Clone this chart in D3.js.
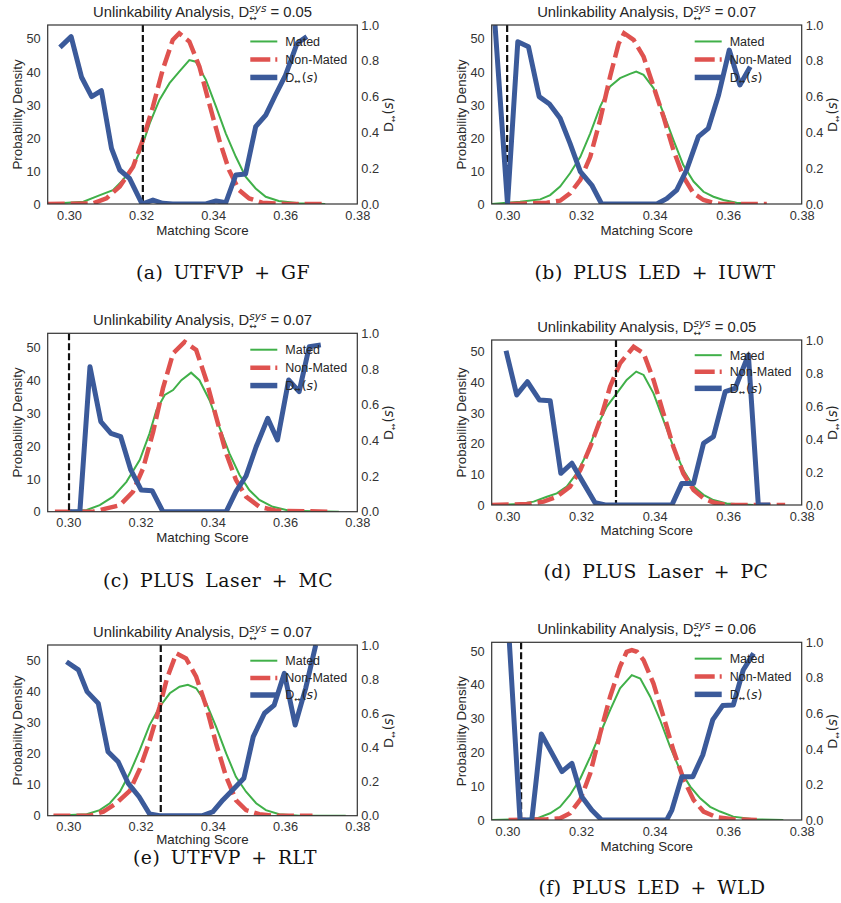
<!DOCTYPE html>
<html><head><meta charset="utf-8">
<script src="https://cdn.jsdelivr.net/npm/d3@7"></script>
<style>
body{margin:0;background:#fff}
</style>
</head><body><svg id="chart" width="841" height="903" font-family='"Liberation Sans", Arial, sans-serif'></svg>
<script>
// ---------- tick labels / texts ----------
const xTicks = [0.30, 0.32, 0.34, 0.36, 0.38];
const densityTicks = [0, 10, 20, 30, 40, 50];
const dTicks = [0.0, 0.2, 0.4, 0.6, 0.8, 1.0];
const dsysValues = ["0.05", "0.07", "0.07", "0.05", "0.07", "0.06"];
const captions = ["(a) UTFVP + GF", "(b) PLUS LED + IUWT", "(c) PLUS Laser + MC",
                  "(d) PLUS Laser + PC", "(e) UTFVP + RLT", "(f) PLUS LED + WLD"];
const thresholds = [0.3205, 0.2999, 0.3002, 0.3295, 0.3256, 0.3037];
const legendLabels = ["Mated", "Non-Mated"];

// ---------- (a) UTFVP + GF ----------
const matedA = [[0.2941,0],[0.3040,0.7],[0.3086,2.7],[0.3122,4.2],[0.3150,7.3],[0.3178,11.3],[0.3201,16.9],[0.3224,24.4],[0.3251,31.5],[0.3279,36.6],[0.3306,40.1],[0.3334,43.6],[0.3352,43.1],[0.3380,37.6],[0.3408,29.5],[0.3435,21.4],[0.3463,14.3],[0.3490,8.3],[0.3518,4.7],[0.3546,2.2],[0.3582,0.9],[0.3638,0.2],[0.3711,0]];
const nonMatedA = [[0.2941,0],[0.3067,0.2],[0.3104,1.7],[0.3141,5.3],[0.3178,11.3],[0.3205,19.4],[0.3233,29.5],[0.3260,40.6],[0.3288,49.7],[0.3306,51.7],[0.3334,49.2],[0.3362,41.6],[0.3389,30.5],[0.3417,19.4],[0.3444,10.3],[0.3472,4.2],[0.3500,1.7],[0.3536,0.4],[0.3601,0],[0.3702,0]];
const dA = [[0.2975,0.875],[0.3006,0.935],[0.3035,0.708],[0.3063,0.600],[0.3090,0.633],[0.3118,0.311],[0.3141,0.190],[0.3168,0.143],[0.3203,0.0],[0.3233,0.022],[0.3260,0.004],[0.3288,0],[0.3380,0],[0.3408,0.017],[0.3435,0.007],[0.3463,0.162],[0.3490,0.168],[0.3518,0.432],[0.3546,0.497],[0.3573,0.609],[0.3601,0.720],[0.3633,0.898],[0.3660,0.935]];

// ---------- (b) PLUS LED + IUWT ----------
const matedB = [[0.2957,0],[0.3034,0.7],[0.3089,1.4],[0.3116,2.7],[0.3143,5.3],[0.3170,9.3],[0.3198,14.3],[0.3225,21.4],[0.3252,29.5],[0.3279,35.6],[0.3306,38.1],[0.3333,39.4],[0.3350,40.1],[0.3370,39.1],[0.3397,35.1],[0.3424,27.5],[0.3451,19.4],[0.3478,11.8],[0.3506,6.8],[0.3533,3.7],[0.3560,2.2],[0.3587,1.2],[0.3623,0.4],[0.3669,0]];
const nonMatedB = [[0.3007,0],[0.3107,0.4],[0.3143,1.0],[0.3170,3.2],[0.3198,7.3],[0.3225,14.3],[0.3252,25.5],[0.3279,38.6],[0.3302,48.5],[0.3317,51.7],[0.3343,49.7],[0.3370,44.6],[0.3397,35.6],[0.3424,26.5],[0.3451,16.4],[0.3478,8.3],[0.3506,3.2],[0.3533,1.2],[0.3560,0.4],[0.3578,0],[0.3705,0]];
const dB = [[0.2966,1.0],[0.3000,0.0],[0.3028,0.907],[0.3057,0.879],[0.3086,0.600],[0.3114,0.559],[0.3143,0.479],[0.3170,0.339],[0.3198,0.181],[0.3229,0.106],[0.3256,0],[0.3406,0],[0.3433,0.030],[0.3460,0.078],[0.3487,0.190],[0.3519,0.376],[0.3546,0.423],[0.3574,0.609],[0.3603,0.860],[0.3632,0.665],[0.3660,0.767]];

// ---------- (c) PLUS Laser + MC ----------
const matedC = [[0.2975,0],[0.3051,0.5],[0.3087,2.0],[0.3124,4.6],[0.3161,9.1],[0.3198,15.8],[0.3225,23.9],[0.3244,31.0],[0.3267,35.6],[0.3290,37.1],[0.3313,40.1],[0.3340,42.4],[0.3363,40.1],[0.3391,34.0],[0.3418,25.9],[0.3446,17.8],[0.3474,11.2],[0.3501,6.6],[0.3529,3.6],[0.3566,1.5],[0.3612,0.3],[0.3749,0]];
const nonMatedC = [[0.2963,0],[0.3069,0],[0.3106,1.0],[0.3143,2.0],[0.3179,6.1],[0.3207,13.2],[0.3235,24.4],[0.3262,37.6],[0.3290,48.3],[0.3322,51.8],[0.3354,49.3],[0.3382,40.1],[0.3409,29.0],[0.3437,17.8],[0.3464,9.7],[0.3492,4.6],[0.3529,1.5],[0.3575,0.3],[0.3722,0]];
const dC = [[0.3005,0],[0.3032,0],[0.3060,0.813],[0.3090,0.505],[0.3118,0.439],[0.3145,0.421],[0.3173,0.234],[0.3202,0.121],[0.3232,0.118],[0.3262,0],[0.3437,0],[0.3464,0.112],[0.3492,0.200],[0.3520,0.364],[0.3552,0.523],[0.3579,0.402],[0.3610,0.738],[0.3639,0.673],[0.3667,0.925],[0.3699,0.935]];

// ---------- (d) PLUS Laser + PC ----------
const matedD = [[0.2957,0],[0.3034,0.3],[0.3071,1.1],[0.3107,2.7],[0.3134,3.8],[0.3161,6.0],[0.3188,10.3],[0.3216,16.8],[0.3243,25.5],[0.3270,32.1],[0.3297,36.4],[0.3324,40.8],[0.3350,43.5],[0.3370,42.4],[0.3397,36.4],[0.3424,27.7],[0.3451,19.0],[0.3478,11.4],[0.3506,6.0],[0.3533,3.3],[0.3560,1.6],[0.3596,0.5],[0.3669,0]];
const nonMatedD = [[0.2957,0],[0.3053,0.3],[0.3098,1.1],[0.3134,2.7],[0.3170,6.0],[0.3198,11.4],[0.3225,19.0],[0.3252,27.7],[0.3279,38.6],[0.3306,46.2],[0.3343,51.6],[0.3370,49.5],[0.3397,40.8],[0.3424,29.9],[0.3451,19.0],[0.3478,10.3],[0.3506,4.9],[0.3533,2.2],[0.3560,0.8],[0.3596,0],[0.3755,0]];
const dD = [[0.2996,0.935],[0.3025,0.667],[0.3054,0.747],[0.3087,0.636],[0.3116,0.632],[0.3145,0.192],[0.3175,0.253],[0.3207,0.131],[0.3238,0.014],[0.3266,0],[0.3447,0],[0.3474,0.131],[0.3506,0.131],[0.3533,0.374],[0.3560,0.414],[0.3592,0.687],[0.3619,0.707],[0.3655,0.909],[0.3682,0],[0.3714,0]];

// ---------- (e) UTFVP + RLT ----------
const matedE = [[0.2959,0],[0.3051,0.5],[0.3087,1.8],[0.3115,4.0],[0.3143,7.7],[0.3170,13.6],[0.3198,21.1],[0.3225,29.1],[0.3253,35.0],[0.3281,39.3],[0.3308,41.4],[0.3331,42.0],[0.3354,40.9],[0.3382,36.1],[0.3409,28.6],[0.3437,20.0],[0.3464,12.5],[0.3492,7.7],[0.3520,4.0],[0.3547,1.8],[0.3584,0.5],[0.3639,0],[0.3768,0]];
const nonMatedE = [[0.2959,0],[0.3060,0],[0.3097,1.3],[0.3133,4.0],[0.3170,8.0],[0.3198,15.0],[0.3225,24.0],[0.3253,35.0],[0.3273,44.0],[0.3299,52.1],[0.3326,50.5],[0.3354,44.6],[0.3382,35.0],[0.3409,23.2],[0.3437,12.5],[0.3464,5.0],[0.3492,1.8],[0.3529,0.5],[0.3566,0],[0.3676,0]];
const dE = [[0.2995,0.902],[0.3028,0.854],[0.3052,0.727],[0.3083,0.658],[0.3110,0.375],[0.3138,0.316],[0.3166,0.189],[0.3196,0.111],[0.3225,0.010],[0.3253,0],[0.3372,0],[0.3400,0.023],[0.3428,0.092],[0.3455,0.150],[0.3486,0.219],[0.3512,0.463],[0.3543,0.600],[0.3570,0.648],[0.3598,0.834],[0.3628,0.531],[0.3657,0.746],[0.3685,1.0]];

// ---------- (f) PLUS LED + WLD ----------
const matedF = [[0.2957,0],[0.3034,0.2],[0.3080,0.5],[0.3116,2.0],[0.3143,3.9],[0.3170,7.4],[0.3198,12.3],[0.3225,18.7],[0.3252,25.6],[0.3279,32.5],[0.3306,39.0],[0.3338,42.9],[0.3361,41.9],[0.3388,36.5],[0.3415,29.6],[0.3442,21.7],[0.3469,14.8],[0.3497,9.9],[0.3524,6.4],[0.3551,3.9],[0.3578,2.5],[0.3614,1.0],[0.3669,0.2],[0.3750,0]];
const nonMatedF = [[0.3003,0],[0.3107,0.2],[0.3143,0.5],[0.3170,2.0],[0.3198,6.0],[0.3225,13.8],[0.3252,25.6],[0.3279,36.5],[0.3306,45.4],[0.3324,49.8],[0.3338,50.3],[0.3352,49.8],[0.3370,47.3],[0.3397,40.4],[0.3424,30.6],[0.3451,20.7],[0.3478,12.3],[0.3506,5.9],[0.3533,2.5],[0.3569,0.8],[0.3614,0.2],[0.3678,0]];
const dF = [[0.3005,1.0],[0.3034,0],[0.3066,0],[0.3092,0.484],[0.3121,0.375],[0.3148,0.272],[0.3175,0.319],[0.3202,0.131],[0.3229,0.056],[0.3256,0],[0.3433,0],[0.3447,0.056],[0.3474,0.244],[0.3504,0.244],[0.3531,0.366],[0.3558,0.563],[0.3585,0.644],[0.3614,0.647],[0.3641,0.844],[0.3669,0.938]];

const seriesSets = [
  [matedA, nonMatedA, dA], [matedB, nonMatedB, dB], [matedC, nonMatedC, dC],
  [matedD, nonMatedD, dD], [matedE, nonMatedE, dE], [matedF, nonMatedF, dF]
];

// ---------- layout (positions only) ----------
const layout = [
  {left:47.7, right:357.3, top:25,    bottom:204,   xmin:0.2941, ymax:54.2, xlab:26,   capX:223, capY:272},
  {left:491.7,right:801.7, top:25,    bottom:204,   xmin:0.2957, ymax:54.2, xlab:26,   capX:655, capY:272},
  {left:47.7, right:357.3, top:333.3, bottom:511.7, xmin:0.2943, ymax:54.4, xlab:26,   capX:218, capY:580},
  {left:491.7,right:801.7, top:340,   bottom:505,   xmin:0.2957, ymax:53.8, xlab:25.5, capX:656, capY:571},
  {left:47.7, right:357.3, top:645,   bottom:815.7, xmin:0.2943, ymax:54.8, xlab:24,   capX:225, capY:857},
  {left:491.7,right:801.7, top:642.3, bottom:820,   xmin:0.2957, ymax:52.6, xlab:26,   capX:652, capY:887}
];

const SANS = '"Liberation Sans", Arial, sans-serif';
const MATH = '"DejaVu Sans", sans-serif';
const SERIF = '"DejaVu Serif", "Liberation Serif", serif';
const COL_GREEN = "#40b049", COL_RED = "#df524f", COL_BLUE = "#3b5a9a", TXT = "#262626";
const svg = d3.select("#chart");
svg.append("rect").attr("width", 841).attr("height", 903).attr("fill", "#fff");
const defs = svg.append("defs");

function dLabel(textSel, size) {
  textSel.append("tspan").text("D");
  textSel.append("tspan").attr("font-size", size * 0.6).attr("dy", size * 0.2)
    .style("font-family", MATH).text("\u2194");
  textSel.append("tspan").attr("dy", -size * 0.2).attr("dx", 1).style("font-family", MATH).text("(");
  textSel.append("tspan").style("font-family", MATH).style("font-style", "italic").text("s");
  textSel.append("tspan").style("font-family", MATH).text(")");
}

layout.forEach((p, i) => {
  const [mated, nonMated, dcurve] = seriesSets[i];
  const g = svg.append("g");
  const x = d3.scaleLinear().domain([p.xmin, 0.38]).range([p.left, p.right]);
  const y = d3.scaleLinear().domain([0, p.ymax]).range([p.bottom, p.top]);
  const y2 = d3.scaleLinear().domain([0, 1]).range([p.bottom, p.top]);
  const w = p.right - p.left, h = p.bottom - p.top;

  defs.append("clipPath").attr("id", "clip" + i).append("rect")
    .attr("x", p.left).attr("y", p.top).attr("width", w).attr("height", h);

  // axes (no tick marks, seaborn white style)
  const ax = g.append("g").attr("transform", `translate(0,${p.bottom})`)
    .call(d3.axisBottom(x).tickValues(xTicks).tickFormat(d3.format(".2f")).tickSize(0).tickPadding(6.5));
  const ayl = g.append("g").attr("transform", `translate(${p.left},0)`)
    .call(d3.axisLeft(y).tickValues(densityTicks).tickSize(0).tickPadding(7));
  const ayr = g.append("g").attr("transform", `translate(${p.right},0)`)
    .call(d3.axisRight(y2).tickValues(dTicks).tickFormat(d3.format(".1f")).tickSize(0).tickPadding(4));
  [ax, ayl, ayr].forEach(a => {
    a.select(".domain").remove();
    a.attr("font-family", null).attr("font-size", null);
    a.selectAll("text").attr("font-size", 12.8).attr("fill", "#333").style("font-family", SANS);
  });

  const plot = g.append("g").attr("clip-path", `url(#clip${i})`);
  const line = (ys) => d3.line().x(d => x(d[0])).y(d => ys(d[1]));

  plot.append("path").datum(mated).attr("d", line(y)).attr("fill", "none")
    .attr("stroke", COL_GREEN).attr("stroke-width", 2);
  plot.append("path").datum(nonMated).attr("d", line(y)).attr("fill", "none")
    .attr("stroke", COL_RED).attr("stroke-width", 4.5).attr("stroke-dasharray", "17,6");
  plot.append("line").attr("x1", x(thresholds[i])).attr("x2", x(thresholds[i]))
    .attr("y1", p.top).attr("y2", p.bottom)
    .attr("stroke", "#111").attr("stroke-width", 2.2).attr("stroke-dasharray", "7,3");

  // legend (belongs to primary axis; D curve drawn over it)
  const lx0 = p.right - 107, lx1 = p.right - 80, tx = p.right - 72;
  const rows = [p.top + h * 0.092, p.top + h * 0.193, p.top + h * 0.293];
  const lg = g.append("g");
  lg.append("line").attr("x1", lx0).attr("x2", lx1).attr("y1", rows[0]).attr("y2", rows[0])
    .attr("stroke", COL_GREEN).attr("stroke-width", 2);
  lg.append("line").attr("x1", lx0).attr("x2", lx1).attr("y1", rows[1]).attr("y2", rows[1])
    .attr("stroke", COL_RED).attr("stroke-width", 4.5).attr("stroke-dasharray", "20,5");
  lg.append("line").attr("x1", lx0).attr("x2", lx1).attr("y1", rows[2]).attr("y2", rows[2])
    .attr("stroke", COL_BLUE).attr("stroke-width", 5.5);
  legendLabels.forEach((lab, k) => {
    lg.append("text").attr("x", tx).attr("y", rows[k]).attr("dy", "0.35em")
      .attr("font-size", 12.5).attr("fill", TXT).text(lab);
  });
  dLabel(lg.append("text").attr("x", tx).attr("y", rows[2]).attr("dy", "0.35em")
    .attr("font-size", 12.5).attr("fill", TXT), 12.5);

  // D curve on secondary axis
  plot.append("path").datum(dcurve).attr("d", line(y2)).attr("fill", "none")
    .attr("stroke", COL_BLUE).attr("stroke-width", 5).attr("stroke-linejoin", "round");

  // frame
  g.append("rect").attr("x", p.left).attr("y", p.top).attr("width", w).attr("height", h)
    .attr("fill", "none").attr("stroke", "#333").attr("stroke-width", 1.2);

  // title
  const cx = (p.left + p.right) / 2;
  const t = g.append("text").attr("x", 0).attr("y", p.top - 8).attr("font-size", 14.8).attr("fill", TXT);
  t.append("tspan").text("Unlinkability Analysis, D");
  const sup = t.append("tspan").attr("font-size", 10.5).style("font-style", "italic")
    .style("font-family", MATH).attr("dy", -5.5).text("sys");
  const wsup = sup.node().getComputedTextLength();
  const sub = t.append("tspan").attr("font-size", 9).style("font-family", MATH)
    .attr("dx", -wsup).attr("dy", 9.5).text("\u2194");
  const wsub = sub.node().getComputedTextLength();
  t.append("tspan").attr("dx", Math.max(0, wsup - wsub)).attr("dy", -4).text(" = " + dsysValues[i]);
  const bb = t.node().getBBox();
  t.attr("transform", `translate(${cx - bb.x - bb.width / 2},0)`);

  // axis labels
  g.append("text").attr("x", cx).attr("y", p.bottom + p.xlab).attr("dy", "0.35em")
    .attr("text-anchor", "middle").attr("font-size", 13.3).attr("fill", TXT).text("Matching Score");
  g.append("text").attr("transform", `translate(${p.left - 30},${(p.top + p.bottom) / 2}) rotate(-90)`)
    .attr("text-anchor", "middle").attr("dy", "0.35em").attr("font-size", 13.3).attr("fill", TXT)
    .text("Probability Density");
  const rl = g.append("text").attr("transform", `translate(${p.right + 31},${(p.top + p.bottom) / 2}) rotate(-90)`)
    .attr("text-anchor", "middle").attr("dy", "0.35em").attr("font-size", 13.3).attr("fill", TXT);
  dLabel(rl, 13.3);

  // caption
  svg.append("text").attr("x", p.capX).attr("y", p.capY).attr("dy", "0.36em")
    .attr("text-anchor", "middle").style("font-family", SERIF)
    .attr("font-size", 18.8).attr("word-spacing", 4).attr("letter-spacing", 0.5)
    .attr("fill", "#111").text(captions[i]);
});
</script>
</body></html>
